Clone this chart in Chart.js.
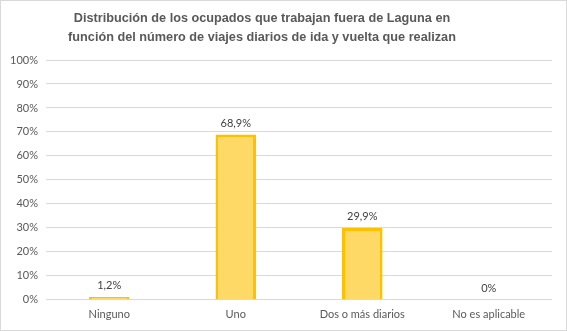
<!DOCTYPE html>
<html>
<head>
<meta charset="utf-8">
<script src="https://cdn.jsdelivr.net/npm/chart.js@4"></script>
<style>
html,body{margin:0;padding:0;background:#fff;}
#wrap{width:567px;height:331px;box-sizing:border-box;border:1px solid #d9d9d9;position:relative;}
canvas{display:block;}
</style>
</head>
<body>
<div id="wrap"><canvas id="c" width="565" height="329"></canvas></div>
<script>
const categories = ["Ninguno", "Uno", "Dos o más diarios", "No es aplicable"];
const values = [1.2, 68.9, 29.9, 0];
const valueLabels = ["1,2%", "68,9%", "29,9%", "0%"];
const titleLines = ["Distribución de los ocupados que trabajan fuera de Laguna en", "función del número de viajes diarios de ida y vuelta que realizan"];

const labelPlugin = {
  id: 'barLabels',
  afterDatasetsDraw(chart) {
    const ctx = chart.ctx;
    const meta = chart.getDatasetMeta(0);
    ctx.save();
    ctx.font = '11px Lato, "Liberation Sans", sans-serif';
    ctx.fillStyle = '#404040';
    ctx.textAlign = 'center';
    ctx.textBaseline = 'bottom';
    meta.data.forEach((bar, i) => {
      ctx.fillText(valueLabels[i], bar.x, bar.y - 6);
    });
    ctx.restore();
  }
};

const titlePlugin = {
  id: 'customTitle',
  afterDraw(chart) {
    const ctx = chart.ctx;
    ctx.save();
    ctx.font = 'bold 12.7px "Liberation Sans", Arial, sans-serif';
    ctx.fillStyle = '#595959';
    ctx.textAlign = 'center';
    ctx.textBaseline = 'middle';
    titleLines.forEach((t, i) => ctx.fillText(t, 261, 17 + i * 19.5));
    ctx.restore();
  }
};

new Chart(document.getElementById('c'), {
  type: 'bar',
  data: {
    labels: categories,
    datasets: [{
      data: values,
      backgroundColor: '#FFD966',
      borderColor: '#FFC000',
      borderWidth: 3,
      categoryPercentage: 1,
      barPercentage: 0.32
    }]
  },
  options: {
    responsive: false,
    animation: false,
    layout: { padding: { left: 0, right: 14, top: 59, bottom: 0 } },
    plugins: {
      legend: { display: false },
      tooltip: { enabled: false },
      title: { display: false }
    },
    scales: {
      y: {
        min: 0, max: 100,
        ticks: {
          stepSize: 10,
          callback: v => v + '%',
          color: '#595959',
          font: { family: 'Lato, "Liberation Sans", sans-serif', size: 11 },
          padding: 8
        },
        grid: { color: '#d9d9d9', drawTicks: false },
        border: { display: false },
        afterFit(axis) { axis.width = 45; }
      },
      x: {
        ticks: {
          color: '#595959',
          font: { family: 'Lato, "Liberation Sans", sans-serif', size: 11 },
          padding: 8.5
        },
        grid: { display: false, drawTicks: false },
        border: { display: false }
      }
    }
  },
  plugins: [labelPlugin, titlePlugin]
});
</script>
</body>
</html>
